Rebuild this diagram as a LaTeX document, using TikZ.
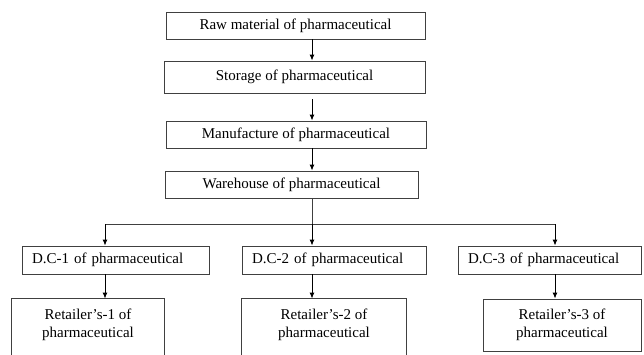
\documentclass[tikz,border=0pt]{standalone}
\usepackage{fontspec}
\setmainfont{Liberation Serif}
\usetikzlibrary{arrows.meta}
\begin{document}
\begin{tikzpicture}[x=1pt,y=-1pt,
  box/.style={draw=black!75, line width=0.9pt, inner sep=0pt, font=\fontsize{15}{18}\selectfont},
  arr/.style={draw=black, line width=0.9pt, -{Latex[length=6pt,width=5pt]}},
  ln/.style={draw=black!75, line width=0.9pt}]
\useasboundingbox (0,0) rectangle (644,354);
\clip (0,0) rectangle (644,354);
% top chain
\node[box, minimum width=259, minimum height=27] (raw) at (295.5,25.5) {Raw material of pharmaceutical};
\node[box, minimum width=261, minimum height=32] (sto) at (294.5,77) {Storage of pharmaceutical};
\node[box, minimum width=260, minimum height=27] (man) at (296,134.5) {Manufacture of pharmaceutical};
\node[box, minimum width=253, minimum height=27] (war) at (291.5,184.5) {Warehouse of pharmaceutical};
\coordinate (s1) at (312,99);
\draw[arr] (raw.south -| s1) -- (sto.north -| s1);
\draw[arr] (s1) -- (man.north -| s1);
\draw[arr] (man.south -| s1) -- (war.north -| s1);
% distribution centres
\node[box, minimum width=187, minimum height=28, text width=167, align=left] (dc1) at (115.5,260) {D.C-1 of pharmaceutical};
\node[box, minimum width=184, minimum height=28, text width=164, align=left] (dc2) at (334,260) {D.C-2 of pharmaceutical};
\node[box, minimum width=183, minimum height=28, text width=163, align=left] (dc3) at (549.5,260) {D.C-3 of pharmaceutical};
\coordinate (b1) at (105,224);
\coordinate (b2) at (312,224);
\coordinate (b3) at (555,224);
\draw[ln] (war.south -| b2) -- (b2);
\draw[ln] (b1) -- (b3);
\draw[arr] (b1) -- (dc1.north -| b1);
\draw[arr] (b2) -- (dc2.north -| b2);
\draw[arr] (b3) -- (dc3.north -| b3);
% retailers
\node[box, draw=none, minimum width=152, minimum height=52, align=center] (r1) at (88,325) {Retailer’s-1 of\\pharmaceutical};
\node[box, draw=none, minimum width=164, minimum height=52, align=center] (r2) at (324,325) {Retailer’s-2 of\\pharmaceutical};
\node[box, minimum width=158, minimum height=52, align=center] (r3) at (562,325) {Retailer’s-3 of\\pharmaceutical};
\draw[ln] ([yshift=-20pt]r1.south west) -- (r1.north west) -- (r1.north east) -- ([yshift=-20pt]r1.south east);
\draw[ln] ([yshift=-20pt]r2.south west) -- (r2.north west) -- (r2.north east) -- ([yshift=-20pt]r2.south east);
\draw[arr] (dc1.south -| b1) -- (r1.north -| b1);
\draw[arr] (dc2.south -| b2) -- (r2.north -| b2);
\draw[arr] (dc3.south -| b3) -- (r3.north -| b3);
\end{tikzpicture}
\end{document}
